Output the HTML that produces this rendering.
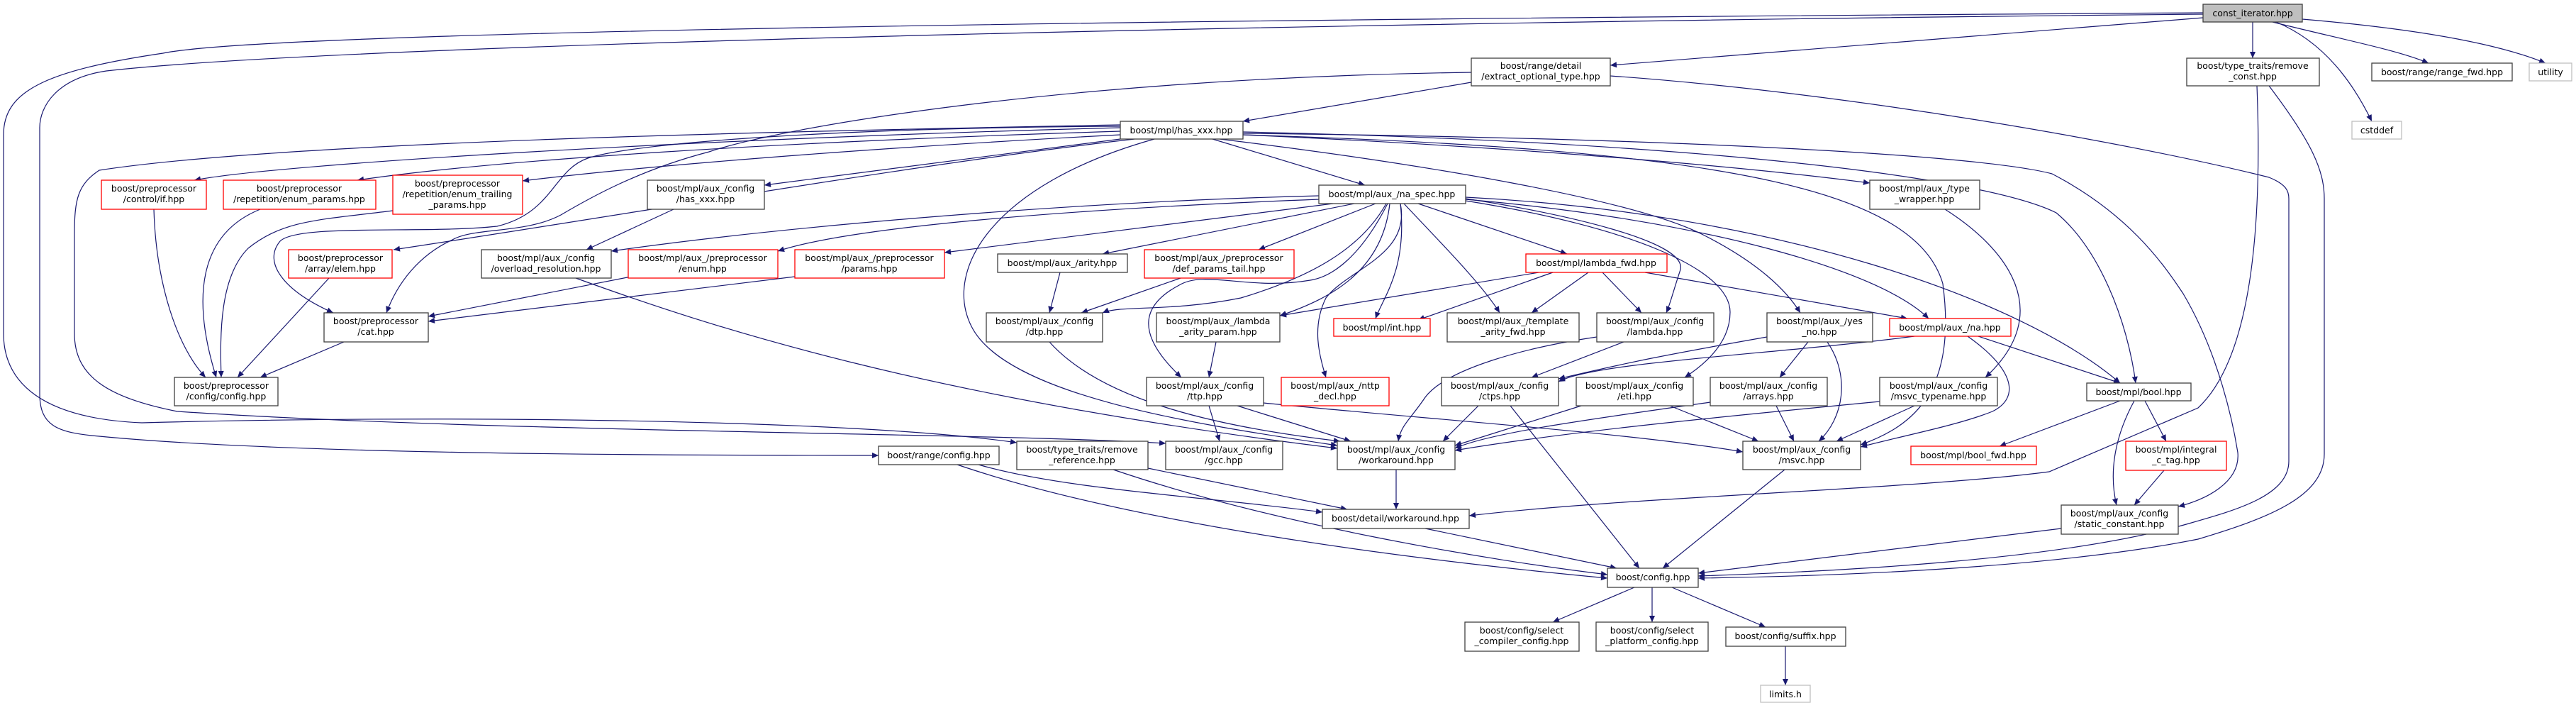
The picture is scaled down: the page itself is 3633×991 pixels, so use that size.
<!DOCTYPE html>
<html><head><meta charset="utf-8"><style>
html,body{margin:0;padding:0;background:#fff}
svg{display:block}
text{font-family:"DejaVu Sans","Liberation Sans",sans-serif;font-size:12.5px;fill:#000}
.e{fill:none;stroke:#191970;stroke-width:1.2;marker-end:url(#a)}
.n{fill:#fff;stroke:#404040;stroke-width:1.3}
.r{fill:#fff;stroke:#ff0000;stroke-width:1.3}
.g{fill:#fff;stroke:#bfbfbf;stroke-width:1.3}
</style></head><body>
<svg width="3633" height="991" viewBox="0 0 3633 991" xmlns="http://www.w3.org/2000/svg">
<defs><marker id="a" viewBox="0 0 10 10" refX="10" refY="5" markerWidth="11" markerHeight="9" markerUnits="userSpaceOnUse" orient="auto"><path d="M0,0.5 L10,5 L0,9.5 z" fill="#191970"/></marker></defs>
<g>
<path class="e" d="M3177 31 L3177 82"/>
<path class="e" d="M3205 31 C3300 55 3380 70 3425 89"/>
<path class="e" d="M3247 27 C3400 40 3520 60 3590 89"/>
<path class="e" d="M3210 31 C3280 60 3320 120 3345 171"/>
<path class="e" d="M3107 25 L2271 92"/>
<path class="e" d="M3107 20 C2000 30 500 60 150 100 C80 110 56 150 56 180 L56 555 C56 600 80 610 140 615 C400 640 900 642 1239 642"/>
<path class="e" d="M3107 18 C2000 25 400 40 230 75 C60 100 5 130 5 190 L5 470 C5 540 60 590 200 596 C600 585 1200 590 1434 624"/>
<path class="e" d="M3183 121 C3190 300 3180 500 3100 575 L2890 665 C2700 690 2300 700 2072 727"/>
<path class="e" d="M3200 121 C3260 200 3278 240 3278 280 L3278 640 C3278 700 3200 730 3100 760 C2900 800 2600 812 2395 815"/>
<path class="e" d="M2271 107 C2600 130 3000 200 3200 250 C3225 260 3228 270 3228 280 L3228 650 C3228 700 3150 720 3080 740 C2900 790 2600 805 2395 812"/>
<path class="e" d="M2075 116 L1753 171"/>
<path class="e" d="M2075 102 C1500 110 1100 180 1000 214 C900 240 830 280 791 303 C740 330 670 320 638 338 C590 360 560 400 545 441"/>
<path class="e" d="M1710 196 L1925 261"/>
<path class="e" d="M1753 190 C2200 210 2500 240 2637 258"/>
<path class="e" d="M1580 180 C1000 195 400 230 274 254"/>
<path class="e" d="M1580 185 C1100 200 700 225 504 254"/>
<path class="e" d="M1580 190 C1200 210 900 235 737 255"/>
<path class="e" d="M1580 196 L1078 261"/>
<path class="e" d="M1600 196 C1300 230 900 300 555 352"/>
<path class="e" d="M1580 178 C1200 180 900 200 829 223 C780 240 780 300 701 319 C600 330 420 315 395 340 C370 370 400 410 470 441"/>
<path class="e" d="M1628 196 C1400 260 1330 380 1370 460 C1420 560 1700 600 1886 628"/>
<path class="e" d="M1580 176 C1100 185 400 200 140 240 C110 260 105 280 105 330 L105 470 C105 530 150 560 250 580 C700 610 1400 610 1644 625"/>
<path class="e" d="M1753 186 C2400 200 2800 250 2900 300 C2960 350 3000 450 3012 540"/>
<path class="e" d="M1753 190 C2400 210 2700 260 2740 400 C2760 550 2700 600 2624 627"/>
<path class="e" d="M1753 188 C2400 195 2800 220 2894 245 C3000 300 3050 370 3079 414 C3130 500 3150 600 3156 638 C3160 680 3110 705 3072 714"/>
<path class="e" d="M1720 196 C2000 230 2300 280 2400 330 C2480 370 2520 410 2539 441"/>
<path class="e" d="M2743 295 C2830 350 2900 440 2800 532"/>
<path class="e" d="M217 295 C220 400 250 490 290 532"/>
<path class="e" d="M367 295 C280 330 270 420 305 532"/>
<path class="e" d="M554 297 C450 310 400 310 350 350 C310 390 310 470 312 532"/>
<path class="e" d="M464 392 L335 532"/>
<path class="e" d="M485 482 L367 532"/>
<path class="e" d="M890 390 L604 446"/>
<path class="e" d="M1121 390 L604 453"/>
<path class="e" d="M950 295 L827 352"/>
<path class="e" d="M812 392 C1000 460 1300 560 1886 632"/>
<path class="e" d="M1860 276 C1500 285 1100 320 862 354"/>
<path class="e" d="M1860 281 C1500 295 1200 320 1097 354"/>
<path class="e" d="M1880 287 L1332 356"/>
<path class="e" d="M1910 287 L1555 358"/>
<path class="e" d="M1940 287 L1775 352"/>
<path class="e" d="M2000 287 L2210 358"/>
<path class="e" d="M1955 287 C1920 350 1850 390 1750 420 C1650 440 1580 430 1555 441"/>
<path class="e" d="M1960 287 C1950 380 1880 420 1805 445"/>
<path class="e" d="M1975 287 C1985 380 1950 420 1940 449"/>
<path class="e" d="M1980 287 C2020 330 2090 400 2115 441"/>
<path class="e" d="M2067 280 C2200 300 2380 340 2370 380 C2360 410 2355 430 2350 441"/>
<path class="e" d="M2067 281 C2400 310 2650 380 2720 449"/>
<path class="e" d="M2067 278 C2500 300 2850 420 2990 540"/>
<path class="e" d="M1957 287 C1920 360 1880 390 1848 395 C1760 410 1700 380 1663 402 C1610 430 1600 470 1666 532"/>
<path class="e" d="M1975 287 C1990 360 1900 380 1870 420 C1850 460 1860 500 1870 532"/>
<path class="e" d="M2067 283 C2300 320 2440 380 2440 440 C2440 480 2410 510 2376 532"/>
<path class="e" d="M2170 384 L1805 445"/>
<path class="e" d="M2190 384 L2000 451"/>
<path class="e" d="M2240 384 L2160 441"/>
<path class="e" d="M2260 384 L2315 441"/>
<path class="e" d="M2320 384 L2690 449"/>
<path class="e" d="M1495 384 L1480 441"/>
<path class="e" d="M1665 392 L1525 441"/>
<path class="e" d="M1715 482 L1705 532"/>
<path class="e" d="M1480 482 C1550 560 1700 600 1890 622"/>
<path class="e" d="M1705 572 L1720 622"/>
<path class="e" d="M1745 572 L1905 622"/>
<path class="e" d="M1782 568 C2000 590 2300 610 2458 637"/>
<path class="e" d="M2290 482 L2160 532"/>
<path class="e" d="M2252 475 C2150 490 2040 520 2010 560 C1990 590 1975 600 1972 622"/>
<path class="e" d="M2492 475 C2350 500 2300 510 2198 534"/>
<path class="e" d="M2550 482 L2510 532"/>
<path class="e" d="M2577 482 C2610 530 2600 590 2565 622"/>
<path class="e" d="M2790 474 L2990 540"/>
<path class="e" d="M2775 474 C2840 520 2850 560 2810 580 C2760 600 2680 615 2624 630"/>
<path class="e" d="M2700 474 C2500 500 2250 510 2198 538"/>
<path class="e" d="M2085 572 L2035 622"/>
<path class="e" d="M2130 572 L2312 801"/>
<path class="e" d="M2230 572 L2052 628"/>
<path class="e" d="M2355 572 L2480 622"/>
<path class="e" d="M2412 567 C2250 590 2100 610 2052 632"/>
<path class="e" d="M2505 572 L2530 622"/>
<path class="e" d="M2700 572 L2590 622"/>
<path class="e" d="M2651 566 C2400 590 2200 610 2052 635"/>
<path class="e" d="M2990 565 L2820 629"/>
<path class="e" d="M3025 565 L3055 622"/>
<path class="e" d="M3010 565 C2980 620 2975 670 2985 712"/>
<path class="e" d="M3052 663 L3010 712"/>
<path class="e" d="M2907 745 L2395 808"/>
<path class="e" d="M2517 662 L2345 801"/>
<path class="e" d="M1969 662 L1969 718"/>
<path class="e" d="M2010 745 L2280 801"/>
<path class="e" d="M1380 655 C1500 690 1700 700 1865 722"/>
<path class="e" d="M1350 655 C1600 740 2000 790 2267 815"/>
<path class="e" d="M1619 660 L1900 718"/>
<path class="e" d="M1570 662 C1800 740 2100 790 2267 810"/>
<path class="e" d="M2305 828 L2190 877"/>
<path class="e" d="M2330 828 L2330 877"/>
<path class="e" d="M2358 828 L2490 884"/>
<path class="e" d="M2518 911 L2518 966"/>
</g>
<g text-anchor="middle">
<rect x="3107" y="6" width="140" height="25" fill="#bfbfbf" stroke="#404040" stroke-width="1.3"/><text x="3177" y="23">const_iterator.hpp</text>
<rect class="n" x="3084" y="82" width="187" height="39"/><text x="3177" y="97">boost/type_traits/remove</text><text x="3177" y="112">_const.hpp</text>
<rect class="n" x="3345" y="89" width="198" height="25"/><text x="3444" y="106">boost/range/range_fwd.hpp</text>
<rect class="g" x="3567" y="89" width="60" height="25"/><text x="3597" y="106">utility</text>
<rect class="g" x="3317" y="171" width="70" height="25"/><text x="3352" y="188">cstddef</text>
<rect class="n" x="2075" y="82" width="196" height="39"/><text x="2173" y="97">boost/range/detail</text><text x="2173" y="112">/extract_optional_type.hpp</text>
<rect class="n" x="1580" y="171" width="173" height="25"/><text x="1666" y="188">boost/mpl/has_xxx.hpp</text>
<rect class="n" x="2637" y="254" width="155" height="41"/><text x="2714" y="270">boost/mpl/aux_/type</text><text x="2714" y="285">_wrapper.hpp</text>
<rect class="r" x="143" y="254" width="148" height="41"/><text x="217" y="270">boost/preprocessor</text><text x="217" y="285">/control/if.hpp</text>
<rect class="r" x="315" y="254" width="215" height="41"/><text x="422" y="270">boost/preprocessor</text><text x="422" y="285">/repetition/enum_params.hpp</text>
<rect class="r" x="554" y="247" width="183" height="55"/><text x="645" y="263">boost/preprocessor</text><text x="645" y="278">/repetition/enum_trailing</text><text x="645" y="293">_params.hpp</text>
<rect class="n" x="913" y="254" width="165" height="41"/><text x="995" y="270">boost/mpl/aux_/config</text><text x="995" y="285">/has_xxx.hpp</text>
<rect class="n" x="1860" y="261" width="207" height="26"/><text x="1963" y="278">boost/mpl/aux_/na_spec.hpp</text>
<rect class="r" x="407" y="352" width="146" height="40"/><text x="480" y="368">boost/preprocessor</text><text x="480" y="383">/array/elem.hpp</text>
<rect class="n" x="679" y="352" width="183" height="40"/><text x="770" y="368">boost/mpl/aux_/config</text><text x="770" y="383">/overload_resolution.hpp</text>
<rect class="r" x="886" y="352" width="211" height="40"/><text x="991" y="368">boost/mpl/aux_/preprocessor</text><text x="991" y="383">/enum.hpp</text>
<rect class="r" x="1121" y="352" width="211" height="40"/><text x="1226" y="368">boost/mpl/aux_/preprocessor</text><text x="1226" y="383">/params.hpp</text>
<rect class="n" x="1407" y="358" width="183" height="26"/><text x="1498" y="375">boost/mpl/aux_/arity.hpp</text>
<rect class="r" x="1614" y="352" width="211" height="40"/><text x="1719" y="368">boost/mpl/aux_/preprocessor</text><text x="1719" y="383">/def_params_tail.hpp</text>
<rect class="r" x="2152" y="358" width="199" height="26"/><text x="2251" y="375">boost/mpl/lambda_fwd.hpp</text>
<rect class="n" x="457" y="441" width="147" height="41"/><text x="530" y="457">boost/preprocessor</text><text x="530" y="472">/cat.hpp</text>
<rect class="n" x="1391" y="441" width="164" height="41"/><text x="1473" y="457">boost/mpl/aux_/config</text><text x="1473" y="472">/dtp.hpp</text>
<rect class="n" x="1631" y="441" width="174" height="41"/><text x="1718" y="457">boost/mpl/aux_/lambda</text><text x="1718" y="472">_arity_param.hpp</text>
<rect class="r" x="1881" y="449" width="136" height="25"/><text x="1949" y="466">boost/mpl/int.hpp</text>
<rect class="n" x="2041" y="441" width="186" height="41"/><text x="2134" y="457">boost/mpl/aux_/template</text><text x="2134" y="472">_arity_fwd.hpp</text>
<rect class="n" x="2252" y="441" width="165" height="41"/><text x="2334" y="457">boost/mpl/aux_/config</text><text x="2334" y="472">/lambda.hpp</text>
<rect class="n" x="2492" y="441" width="149" height="41"/><text x="2566" y="457">boost/mpl/aux_/yes</text><text x="2566" y="472">_no.hpp</text>
<rect class="r" x="2665" y="449" width="171" height="25"/><text x="2750" y="466">boost/mpl/aux_/na.hpp</text>
<rect class="n" x="246" y="532" width="146" height="40"/><text x="319" y="548">boost/preprocessor</text><text x="319" y="563">/config/config.hpp</text>
<rect class="n" x="1617" y="532" width="165" height="40"/><text x="1699" y="548">boost/mpl/aux_/config</text><text x="1699" y="563">/ttp.hpp</text>
<rect class="r" x="1807" y="532" width="152" height="40"/><text x="1883" y="548">boost/mpl/aux_/nttp</text><text x="1883" y="563">_decl.hpp</text>
<rect class="n" x="2033" y="532" width="165" height="40"/><text x="2115" y="548">boost/mpl/aux_/config</text><text x="2115" y="563">/ctps.hpp</text>
<rect class="n" x="2223" y="532" width="165" height="40"/><text x="2305" y="548">boost/mpl/aux_/config</text><text x="2305" y="563">/eti.hpp</text>
<rect class="n" x="2412" y="532" width="165" height="40"/><text x="2494" y="548">boost/mpl/aux_/config</text><text x="2494" y="563">/arrays.hpp</text>
<rect class="n" x="2651" y="532" width="166" height="40"/><text x="2734" y="548">boost/mpl/aux_/config</text><text x="2734" y="563">/msvc_typename.hpp</text>
<rect class="n" x="2943" y="540" width="147" height="25"/><text x="3016" y="557">boost/mpl/bool.hpp</text>
<rect class="n" x="1239" y="629" width="170" height="26"/><text x="1324" y="646">boost/range/config.hpp</text>
<rect class="n" x="1434" y="622" width="185" height="40"/><text x="1526" y="638">boost/type_traits/remove</text><text x="1526" y="653">_reference.hpp</text>
<rect class="n" x="1644" y="622" width="165" height="40"/><text x="1726" y="638">boost/mpl/aux_/config</text><text x="1726" y="653">/gcc.hpp</text>
<rect class="n" x="1886" y="622" width="166" height="40"/><text x="1969" y="638">boost/mpl/aux_/config</text><text x="1969" y="653">/workaround.hpp</text>
<rect class="n" x="2458" y="622" width="166" height="40"/><text x="2541" y="638">boost/mpl/aux_/config</text><text x="2541" y="653">/msvc.hpp</text>
<rect class="r" x="2695" y="629" width="177" height="26"/><text x="2783" y="646">boost/mpl/bool_fwd.hpp</text>
<rect class="r" x="2998" y="622" width="142" height="41"/><text x="3069" y="638">boost/mpl/integral</text><text x="3069" y="653">_c_tag.hpp</text>
<rect class="n" x="1865" y="718" width="207" height="27"/><text x="1968" y="735">boost/detail/workaround.hpp</text>
<rect class="n" x="2907" y="712" width="165" height="41"/><text x="2989" y="728">boost/mpl/aux_/config</text><text x="2989" y="743">/static_constant.hpp</text>
<rect class="n" x="2267" y="801" width="128" height="27"/><text x="2331" y="818">boost/config.hpp</text>
<rect class="n" x="2066" y="877" width="161" height="41"/><text x="2146" y="893">boost/config/select</text><text x="2146" y="908">_compiler_config.hpp</text>
<rect class="n" x="2251" y="877" width="158" height="41"/><text x="2330" y="893">boost/config/select</text><text x="2330" y="908">_platform_config.hpp</text>
<rect class="n" x="2434" y="884" width="169" height="27"/><text x="2518" y="901">boost/config/suffix.hpp</text>
<rect class="g" x="2483" y="966" width="70" height="24"/><text x="2518" y="983">limits.h</text>
</g>
</svg>
</body></html>
